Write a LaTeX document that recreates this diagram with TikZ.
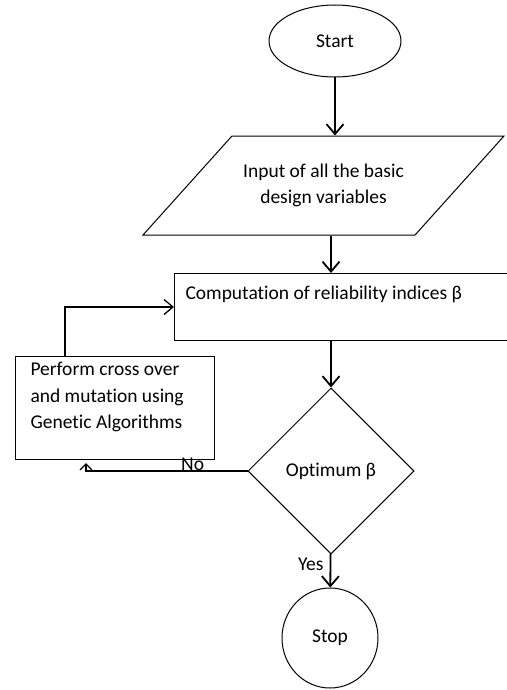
\documentclass[tikz,border=0pt]{standalone}
\usepackage{fontspec}
\setmainfont{Carlito}[Ligatures=NoCommon]
\usetikzlibrary{
	arrows.meta,
	calc,
	positioning,
	shapes.geometric
}

\tikzset{
	base/.style={draw, line width=1pt, inner sep=0pt},
	terminal/.style={base, ellipse},
	iobox/.style={base, trapezium, trapezium left angle=26, trapezium right angle=154,
		trapezium stretches body, minimum width=361, minimum height=99, align=center},
	procbox/.style={base, rectangle, anchor=north west, align=flush left},
	decision/.style={base, diamond, minimum width=166, minimum height=166},
	flow/.style={line width=1.8pt, -{Straight Barb[length=10pt, width=17pt]}},
	back/.style={line width=1.3pt, -{Straight Barb[length=9pt, width=15pt]}},
	reject/.style={line width=1.3pt, -{Straight Barb[length=6pt, width=12pt]}, shorten >=3pt}
}

\begin{document}
\begin{tikzpicture}[x=1pt, y=-1pt, font=\fontsize{19.5}{26.5}\selectfont]
		\useasboundingbox (0,0) rectangle (506,690);
		% shapes of the flow chart
		\node[terminal, minimum width=132, minimum height=72] (start) at (335,41) {Start};
		\node[iobox] (input) at (323.5,185.5) {Input of all the basic\\design variables};
		\node[procbox, text width=318, inner xsep=11, text height=26, text depth=41] (comp) at (174,273) {Computation of reliability indices β};
		\node[decision] (opt) at (331,471) {Optimum β};
		\node[terminal, minimum width=96, minimum height=100] (stop) at (330,638) {Stop};
		\node[procbox, text width=169, inner xsep=15, text height=19, text depth=84] (ga) at (15,356) {Perform cross over\\and mutation using\\Genetic Algorithms};
		% connectors
		\draw[flow] (start) -- (start |- input.north);
		\draw[flow] (input.south -| opt) -- (comp.north -| opt);
		\draw[flow] (comp.south -| opt) -- (opt);
		\draw[flow] (opt) -- node[pos=0.32, left, inner xsep=6pt] {Yes} (stop);
		\draw[reject] (opt.west) -| node[pos=0.17, above, inner sep=0pt] {No} ($(ga.south west)+(71,0)$);
		\draw[back] ($(ga.north west)+(50,0)$) |- (comp.west);
	\end{tikzpicture}
\end{document}
